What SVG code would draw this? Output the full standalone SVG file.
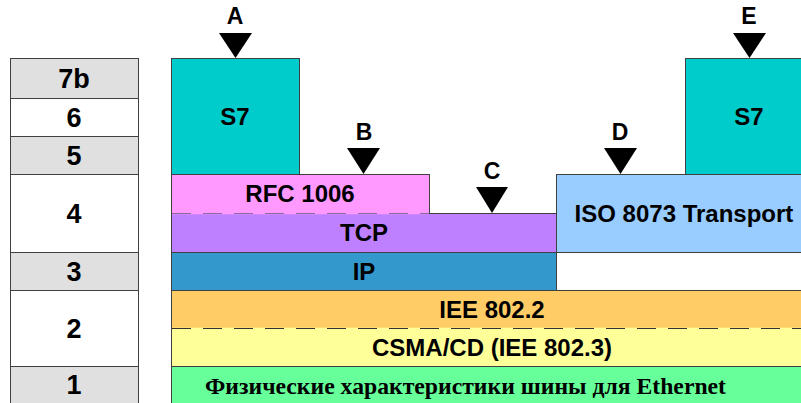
<svg xmlns="http://www.w3.org/2000/svg" width="801" height="403" viewBox="0 0 801 403">
<style>
.cell{stroke:#404040;stroke-width:1}
.g{fill:#e0e0e0}
.w{fill:#ffffff}
.num{font-family:"Liberation Sans",Arial,sans-serif;font-weight:bold;font-size:27px;text-anchor:middle;fill:#000}
.lbl{font-family:"Liberation Sans",Arial,sans-serif;font-weight:bold;font-size:24px;text-anchor:middle;fill:#000}
.let{font-family:"Liberation Sans",Arial,sans-serif;font-weight:bold;font-size:23px;text-anchor:middle;fill:#000}
.box{stroke:#404040;stroke-width:1}
.dash{stroke-width:1.2;stroke-dasharray:19 12;fill:none}
</style>
<rect width="801" height="403" fill="#ffffff"/>
<g id="layers">
<g id="l7b"><rect class="cell g" x="10.5" y="58.5" width="128" height="40"/><text class="num" x="74" y="88">7b</text></g>
<g id="l6"><rect class="cell w" x="10.5" y="98.5" width="128" height="38"/><text class="num" x="74" y="127">6</text></g>
<g id="l5"><rect class="cell g" x="10.5" y="136.5" width="128" height="38"/><text class="num" x="74" y="165">5</text></g>
<g id="l4"><rect class="cell w" x="10.5" y="174.5" width="128" height="78"/><text class="num" x="74" y="223">4</text></g>
<g id="l3"><rect class="cell g" x="10.5" y="252.5" width="128" height="38"/><text class="num" x="74" y="281">3</text></g>
<g id="l2"><rect class="cell w" x="10.5" y="290.5" width="128" height="76"/><text class="num" x="74" y="338">2</text></g>
<g id="l1"><rect class="cell g" x="10.5" y="366.5" width="128" height="40"/><text class="num" x="74" y="394">1</text></g>
</g>
<g id="s7a"><rect class="box" fill="#00cccc" x="171.5" y="58.5" width="128" height="116"/><text class="lbl" x="235" y="125">S7</text></g>
<g id="s7e"><rect class="box" fill="#00cccc" x="685.5" y="58.5" width="128" height="116"/><text class="lbl" x="749" y="125">S7</text></g>
<g id="tcp"><rect class="box" fill="#bf80ff" x="171.5" y="213.5" width="385" height="39"/><text class="lbl" x="364" y="241">TCP</text></g>
<g id="rfc"><rect class="box" fill="#ff99ff" x="171.5" y="174.5" width="258" height="39"/><text class="lbl" x="300" y="202">RFC 1006</text></g>
<g id="iso"><rect class="box" fill="#99ccff" x="556.5" y="174.5" width="257" height="78"/><text class="lbl" x="684" y="222">ISO 8073 Transport</text></g>
<g id="ip"><rect class="box" fill="#3399cc" x="171.5" y="252.5" width="385" height="38"/><text class="lbl" x="364" y="280">IP</text></g>
<g id="blank"><rect class="box" fill="#ffffff" x="556.5" y="252.5" width="257" height="38"/></g>
<g id="llc"><rect class="box" fill="#ffcc66" x="171.5" y="290.5" width="642" height="38"/><text class="lbl" x="492" y="318">IEE 802.2</text></g>
<g id="csma"><rect class="box" fill="#ffff99" x="171.5" y="328.5" width="642" height="38"/><text class="lbl" x="492" y="356">CSMA/CD (IEE 802.3)</text></g>
<g id="phys"><rect class="box" fill="#66ff99" x="171.5" y="366.5" width="642" height="40"/><text x="205" y="394" font-family="'Liberation Serif','Times New Roman',serif" font-weight="bold" font-size="23" textLength="521" lengthAdjust="spacingAndGlyphs" fill="#000">Физические характеристики шины для Ethernet</text></g>
<g id="connectors">
<line x1="172" y1="213.5" x2="429" y2="213.5" stroke="#ff99ff" stroke-width="1.5"/>
<line class="dash" stroke="#8a6a9a" x1="172" y1="213.5" x2="429" y2="213.5"/>
<line x1="172" y1="328.5" x2="813" y2="328.5" stroke="#ffff99" stroke-width="1.5"/>
<line class="dash" stroke="#333333" x1="172" y1="328.5" x2="813" y2="328.5"/>
<polygon points="219,33 252,33 235.5,58" fill="#000"/>
<polygon points="347,148 380,148 363.5,174" fill="#000"/>
<polygon points="476,187 508,187 492,213" fill="#000"/>
<polygon points="604,148 637,148 620.5,174" fill="#000"/>
<polygon points="733,33 766,33 749.5,58" fill="#000"/>
</g>
<g id="markers">
<text class="let" x="235" y="24">A</text>
<text class="let" x="364" y="140">B</text>
<text class="let" x="492" y="179">C</text>
<text class="let" x="620" y="140">D</text>
<text class="let" x="749" y="24">E</text>
</g>
</svg>
